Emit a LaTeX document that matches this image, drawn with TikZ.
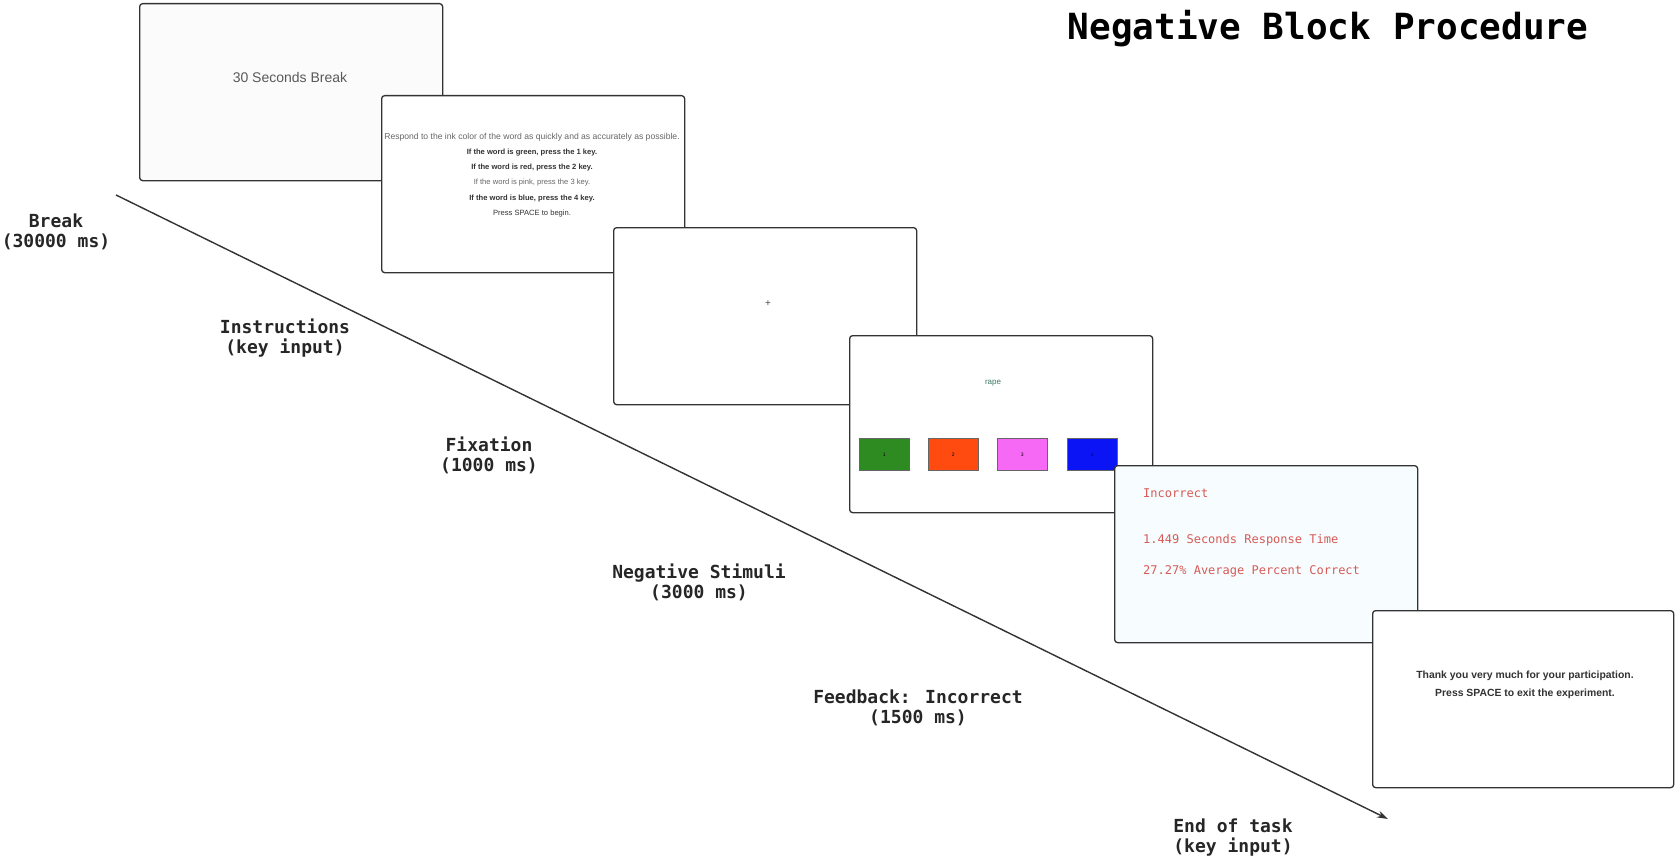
\documentclass[tikz,border=0pt]{standalone}
\usepackage{fontspec}
\setmainfont{Liberation Sans}
\newfontfamily\monofont{DejaVu Sans Mono}
\usetikzlibrary{arrows.meta}

\definecolor{frame}{HTML}{333333}
\definecolor{fbred}{HTML}{D65A55}
\definecolor{wordgreen}{HTML}{3C7A68}
\definecolor{boxgreen}{HTML}{2E8B22}
\definecolor{boxred}{HTML}{FF4A10}
\definecolor{boxpink}{HTML}{F569F5}
\definecolor{boxblue}{HTML}{0A14F5}

\begin{document}
\begin{tikzpicture}[x=1pt,y=-1pt,
  slide/.style={draw=frame, line width=1.3pt, rounded corners=3pt, fill=white,
    minimum width=303pt, minimum height=177pt, anchor=north west, inner sep=0pt},
  tlabel/.style={font=\monofont\bfseries\fontsize{18}{20}\selectfont, align=center,
    inner sep=0pt, text=black!85},
  keybox/.style={draw=black!60, line width=0.6pt, minimum width=50pt, minimum height=32pt,
    inner sep=0pt, font=\fontsize{5}{6}\selectfont, anchor=north west},
  fbtext/.style={font=\monofont\fontsize{12}{13}\selectfont, text=fbred, anchor=west, inner sep=0pt}]
  \useasboundingbox (0,0) rectangle (1675,864);

  % time line
  \coordinate (tstart) at (116,195);
  \coordinate (tend) at (1388,819);
  \draw [frame, line width=1.4pt, -{Stealth[length=11pt,width=7pt]}] (tstart) -- (tend);

  \node [font=\monofont\bfseries\fontsize{36}{40}\selectfont] (title) at (1328,29) {Negative Block Procedure};

  % screens
  \node [slide, fill=black!1.5] (brk) at (139,3) {};
  \node [text=black!65, font=\fontsize{14}{16}\selectfont] (brktxt) at (290,77) {30 Seconds Break};

  \node [slide] (ins) at (381,95) {};
  \node [align=center, font=\fontsize{7.6}{15.2}\selectfont, text=black!80] (instxt) at (532,175)
    {{\color{black!60}\fontsize{8.6}{15.2}\selectfont Respond to the ink color of the word as quickly and as accurately as possible.}\\
     \textbf{If the word is green, press the 1 key.}\\
     \textbf{If the word is red, press the 2 key.}\\
     {\color{black!60}If the word is pink, press the 3 key.}\\
     \textbf{If the word is blue, press the 4 key.}\\
     Press SPACE to begin.};

  \node [slide] (fix) at (613,227) {};
  \node [text=black!70, font=\fontsize{10}{12}\selectfont, inner sep=0pt] (cross) at (768,304) {+};

  \node [slide] (stim) at (849,335) {};
  \node [text=wordgreen, font=\fontsize{8}{10}\selectfont] (word) at (993,383) {rape};
  \node [keybox, fill=boxgreen] (k1) at (859,438) {1};
  \node [keybox, fill=boxred] (k2) at (928,438) {2};
  \node [keybox, fill=boxpink] (k3) at (997,438) {3};
  \node [keybox, fill=boxblue, text=blue!60!black] (k4) at (1067,438) {4};

  \node [slide, fill=cyan!3] (fb) at (1114,465) {};
  \node [fbtext] (fb1) at (1143,493) {Incorrect};
  \node [fbtext] (fb2) at (1143,540) {1.449 Seconds Response Time};
  \node [fbtext] (fb3) at (1143,571) {27.27\% Average Percent Correct};

  \node [slide, minimum width=301pt] (fin) at (1372,610) {};
  \node [align=center, font=\bfseries\fontsize{10.4}{18}\selectfont, text=black!80] (fintxt) at (1525,685)
    {Thank you very much for your participation.\\Press SPACE to exit the experiment.};

  % phase labels
  \node [tlabel] (lbrk) at (56,232) {Break\\(30000 ms)};
  \node [tlabel] (lins) at (285,338) {Instructions\\(key input)};
  \node [tlabel] (lfix) at (489,455) {Fixation\\(1000 ms)};
  \node [tlabel] (lstim) at (699,582) {Negative Stimuli\\(3000 ms)};
  \node [tlabel] (lfb) at (918,708) {Feedback: Incorrect\\(1500 ms)};
  \node [tlabel] (lend) at (1233,838) {End of task\\(key input)};
\end{tikzpicture}
\end{document}
